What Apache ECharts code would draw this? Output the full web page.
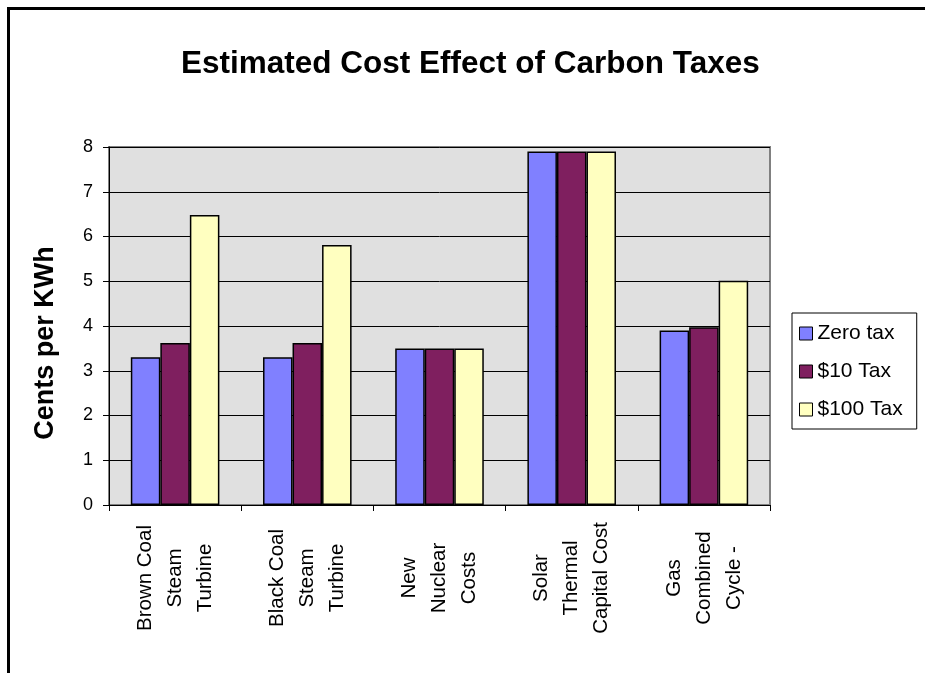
<!DOCTYPE html>
<html>
<head>
<meta charset="utf-8">
<script src="https://cdn.jsdelivr.net/npm/echarts@6/dist/echarts.min.js"></script>
<style>
html,body{margin:0;padding:0;background:#fff;}
#chart{width:925px;height:673px;}
</style>
</head>
<body>
<div id="chart"></div>
<script>
const categories = ['Brown Coal\nSteam\nTurbine', 'Black Coal\nSteam\nTurbine', 'New\nNuclear\nCosts', 'Solar\nThermal\nCapital Cost', 'Gas\nCombined\nCycle -'];
const seriesNames = ['Zero tax', '$10 Tax', '$100 Tax'];
const zeroTax = [3.3, 3.3, 3.5, 7.9, 3.9];
const tax10 = [3.62, 3.62, 3.5, 7.9, 3.97];
const tax100 = [6.48, 5.81, 3.5, 7.9, 5.01];
const colors = ['#8080FF', '#7F1F5F', '#FFFFC0'];

const FONT = 'Arial, "Liberation Sans", sans-serif';
const chart = echarts.init(document.getElementById('chart'), null, {renderer: 'canvas'});
const values = [zeroTax, tax10, tax100];

chart.setOption({
  backgroundColor: '#fff',
  animation: false,
  title: {
    text: 'Estimated Cost Effect of Carbon Taxes',
    left: 181,
    top: 48,
    padding: 0,
    textStyle: {fontFamily: FONT, fontSize: 31.5, fontWeight: 'bold', color: '#000'}
  },
  graphic: [{
    type: 'rect',
    shape: {x: 8.5, y: 8.5, width: 1000, height: 1000},
    style: {fill: 'none', stroke: '#000', lineWidth: 3},
    silent: true
  }],
  legend: {
    orient: 'vertical',
    left: 792,
    top: 313,
    icon: 'rect',
    itemWidth: 13,
    itemHeight: 13,
    itemGap: 17,
    padding: [10, 14, 9, 7],
    borderColor: '#000',
    borderWidth: 1,
    backgroundColor: '#fff',
    itemStyle: {borderColor: '#000', borderWidth: 1},
    textStyle: {fontFamily: FONT, fontSize: 21, color: '#000'},
    data: seriesNames
  },
  grid: {
    left: 109, right: 155, top: 147, bottom: 168,
    show: true,
    backgroundColor: '#E0E0E0',
    borderColor: '#808080',
    borderWidth: 2
  },
  xAxis: {
    type: 'category',
    data: categories,
    axisLine: {lineStyle: {color: '#000', width: 1}},
    axisTick: {show: true, length: 6, lineStyle: {color: '#000'}},
    axisLabel: {
      interval: 0,
      rotate: 90,
      align: 'center',
      margin: 73,
      fontFamily: FONT,
      fontSize: 20.5,
      lineHeight: 30,
      color: '#000'
    }
  },
  yAxis: {
    type: 'value',
    min: 0, max: 8, interval: 1,
    name: 'Cents per KWh',
    nameLocation: 'middle',
    nameRotate: 90,
    nameGap: 50,
    nameTextStyle: {fontFamily: FONT, fontSize: 27, fontWeight: 'bold', color: '#000', padding: [0, 34, 0, 0]},
    axisLine: {show: true, lineStyle: {color: '#000', width: 1}},
    axisTick: {show: true, length: 6, lineStyle: {color: '#000'}},
    axisLabel: {fontFamily: FONT, fontSize: 18, color: '#000', margin: 16},
    splitLine: {show: true, lineStyle: {color: '#000', width: 1}}
  },
  series: seriesNames.map((n, i) => ({
    name: n,
    type: 'bar',
    data: values[i],
    barGap: '0%',
    barCategoryGap: '33%',
    itemStyle: {color: colors[i], borderColor: '#000', borderWidth: 1.5}
  }))
});
</script>
</body>
</html>
